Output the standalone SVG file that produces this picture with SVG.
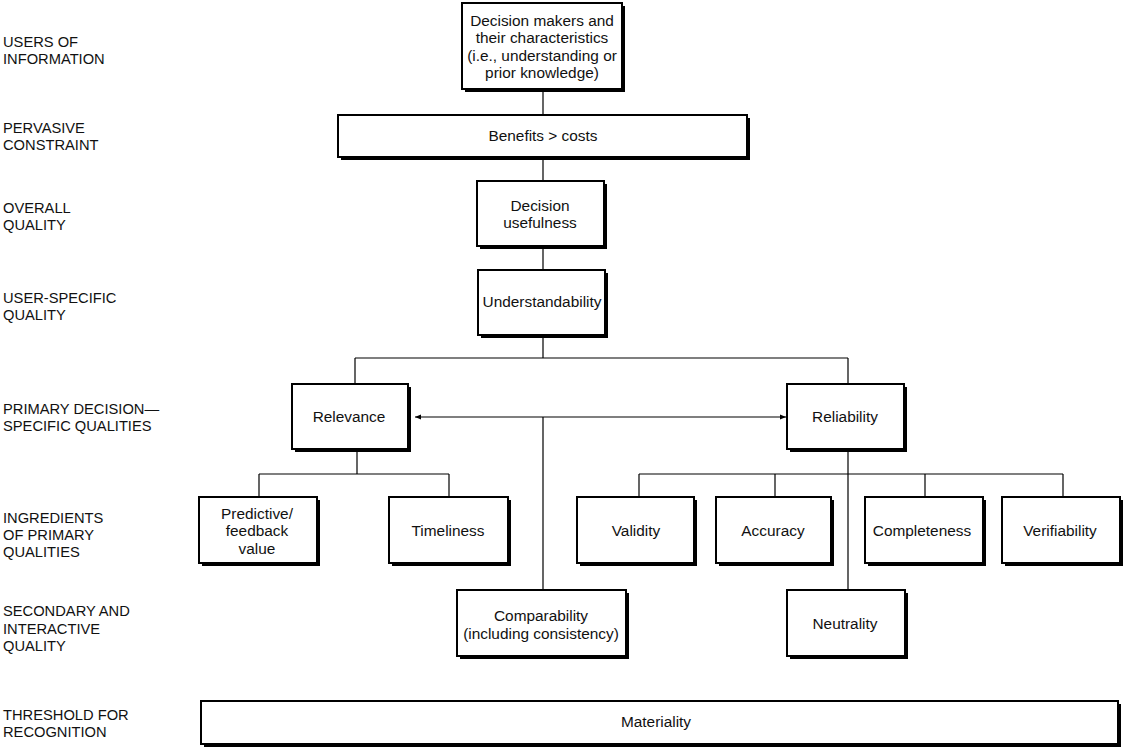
<svg xmlns="http://www.w3.org/2000/svg" width="1125" height="749" viewBox="0 0 1125 749">
<style>
text{font-family:"Liberation Sans",Arial,sans-serif;font-size:15.4px;fill:#111}
#labels text{font-size:14.7px}
.c{text-anchor:middle}
.sh{fill:#000}
.bx{fill:#fff;stroke:#000;stroke-width:2}
.ln{fill:none;stroke:#000;stroke-width:1.2}
</style>
<defs>
<marker id="ah" viewBox="0 0 10 10" refX="10" refY="5" markerWidth="9" markerHeight="6" orient="auto-start-reverse" markerUnits="userSpaceOnUse">
<path d="M0,1 L10,5 L0,9 Z" fill="#000"/>
</marker>
</defs>
<rect width="1125" height="749" fill="#fff"/>
<g id="labels">
<text x="3" y="47">USERS OF</text><text x="3" y="64">INFORMATION</text>
<text x="3" y="133">PERVASIVE</text><text x="3" y="150">CONSTRAINT</text>
<text x="3" y="213">OVERALL</text><text x="3" y="230">QUALITY</text>
<text x="3" y="303">USER-SPECIFIC</text><text x="3" y="320">QUALITY</text>
<text x="3" y="414">PRIMARY DECISION—</text><text x="3" y="431">SPECIFIC QUALITIES</text>
<text x="3" y="523">INGREDIENTS</text><text x="3" y="540">OF PRIMARY</text><text x="3" y="557">QUALITIES</text>
<text x="3" y="616">SECONDARY AND</text><text x="3" y="634">INTERACTIVE</text><text x="3" y="651">QUALITY</text>
<text x="3" y="720">THRESHOLD FOR</text><text x="3" y="737">RECOGNITION</text>
</g>
<g id="connectors">
<path class="ln" d="M543,91 V115 M543,158 V181 M543,247 V270 M543,337 V358 M355,358 H848 M355,358 V384 M848,358 V384"/>
<path class="ln" d="M415,417 H786" marker-start="url(#ah)" marker-end="url(#ah)"/>
<path class="ln" d="M543,417 V590 M848,451 V590"/>
<path class="ln" d="M357,450 V474 M259,474 H449 M259,474 V497 M449,474 V497"/>
<path class="ln" d="M639,474 H1063 M639,474 V497 M775,474 V497 M925,474 V497 M1063,474 V497"/>
</g>
<g id="n-decision-makers"><rect class="sh" x="465" y="6" width="160" height="86"/><rect class="bx" x="462" y="3" width="160" height="86"/>
<text class="c" x="542" y="26">Decision makers and</text><text class="c" x="542" y="43">their characteristics</text><text class="c" x="542" y="61">(i.e., understanding or</text><text class="c" x="542" y="78">prior knowledge)</text></g>
<g id="n-benefits"><rect class="sh" x="341" y="118" width="409" height="42"/><rect class="bx" x="338" y="115" width="409" height="42"/>
<text class="c" x="543" y="141">Benefits &gt; costs</text></g>
<g id="n-usefulness"><rect class="sh" x="480" y="184" width="127" height="65"/><rect class="bx" x="477" y="181" width="127" height="65"/>
<text class="c" x="540" y="211">Decision</text><text class="c" x="540" y="228">usefulness</text></g>
<g id="n-understandability"><rect class="sh" x="481" y="273" width="127" height="65"/><rect class="bx" x="478" y="270" width="127" height="65"/>
<text class="c" x="542" y="307">Understandability</text></g>
<g id="n-relevance"><rect class="sh" x="295" y="387" width="116" height="65"/><rect class="bx" x="292" y="384" width="116" height="65"/>
<text class="c" x="349" y="422">Relevance</text></g>
<g id="n-reliability"><rect class="sh" x="790" y="387" width="117" height="65"/><rect class="bx" x="787" y="384" width="117" height="65"/>
<text class="c" x="845" y="422">Reliability</text></g>
<g id="n-predictive"><rect class="sh" x="202" y="500" width="118" height="66"/><rect class="bx" x="199" y="497" width="118" height="66"/>
<text class="c" x="257" y="519">Predictive/</text><text class="c" x="257" y="536">feedback</text><text class="c" x="257" y="554">value</text></g>
<g id="n-timeliness"><rect class="sh" x="392" y="500" width="119" height="66"/><rect class="bx" x="389" y="497" width="119" height="66"/>
<text class="c" x="448" y="536">Timeliness</text></g>
<g id="n-validity"><rect class="sh" x="580" y="500" width="117" height="66"/><rect class="bx" x="577" y="497" width="117" height="66"/>
<text class="c" x="636" y="536">Validity</text></g>
<g id="n-accuracy"><rect class="sh" x="719" y="500" width="115" height="66"/><rect class="bx" x="716" y="497" width="115" height="66"/>
<text class="c" x="773" y="536">Accuracy</text></g>
<g id="n-completeness"><rect class="sh" x="868" y="500" width="118" height="66"/><rect class="bx" x="865" y="497" width="118" height="66"/>
<text class="c" x="922" y="536">Completeness</text></g>
<g id="n-verifiability"><rect class="sh" x="1005" y="500" width="118" height="66"/><rect class="bx" x="1002" y="497" width="118" height="66"/>
<text class="c" x="1060" y="536">Verifiability</text></g>
<g id="n-comparability"><rect class="sh" x="460" y="593" width="169" height="66"/><rect class="bx" x="457" y="590" width="169" height="66"/>
<text class="c" x="541" y="621">Comparability</text><text class="c" x="541" y="639">(including consistency)</text></g>
<g id="n-neutrality"><rect class="sh" x="790" y="593" width="118" height="66"/><rect class="bx" x="787" y="590" width="118" height="66"/>
<text class="c" x="845" y="629">Neutrality</text></g>
<g id="n-materiality"><rect class="sh" x="204" y="704" width="917" height="43"/><rect class="bx" x="201" y="701" width="917" height="43"/>
<text class="c" x="656" y="727">Materiality</text></g>
</svg>
